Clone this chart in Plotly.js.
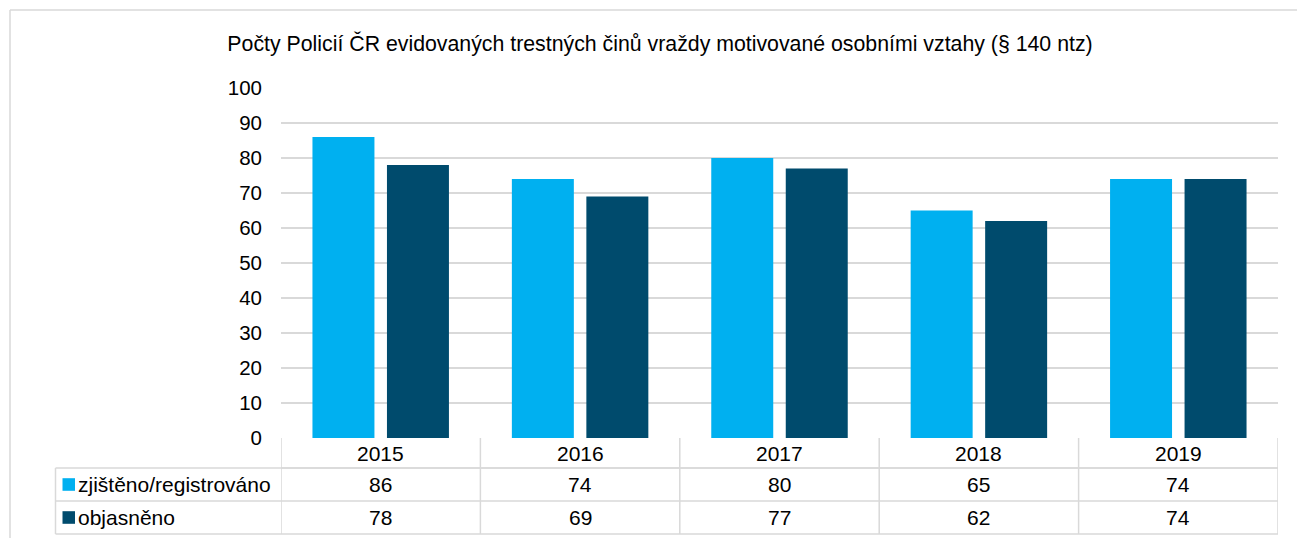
<!DOCTYPE html>
<html>
<head>
<meta charset="utf-8">
<script src="https://cdn.plot.ly/plotly-3.0.1.min.js"></script>
<style>
html,body{margin:0;padding:0;background:#fff;}
#chart{width:1297px;height:538px;}
</style>
</head>
<body>
<div id="chart"></div>
<script>
const chartTitle = "Počty Policií ČR evidovaných trestných činů vraždy motivované osobními vztahy (§ 140 ntz)";
const years = ["2015", "2016", "2017", "2018", "2019"];
const seriesNames = ["zjištěno/registrováno", "objasněno"];
const registered = [86, 74, 80, 65, 74];
const solved = [78, 69, 77, 62, 74];
const seriesColors = ["#00B0F0", "#004B6D"];

const W = 1297, H = 538;
const M = {l: 281, r: 19, t: 88, b: 100};
const plotW = W - M.l - M.r, plotH = H - M.t - M.b;
const px = v => (v - M.l) / plotW;          // pixel x -> paper x
const py = v => (H - M.b - v) / plotH;      // pixel y -> paper y

const FONT = "Liberation Sans, Arial, sans-serif";
const gridCol = "#D9D9D9";
const txtCol = "#000000";

const traces = [
  {type: "bar", name: seriesNames[0], x: years, y: registered,
   marker: {color: seriesColors[0]}, hoverinfo: "x+y+name"},
  {type: "bar", name: seriesNames[1], x: years, y: solved,
   marker: {color: seriesColors[1]}, hoverinfo: "x+y+name"}
];

// table geometry (pixels)
const rowTop = [438, 468, 501];
const rowBot = [468, 501, 534];
const tableLeft = 55.5;
const n = years.length;

const shapes = [];
const line = (x0, y0, x1, y1, xref, yref, w) => ({
  type: "line", xref: xref, yref: yref, x0: x0, y0: y0, x1: x1, y1: y1,
  line: {color: gridCol, width: w || 1.5}, layer: "above"
});
// outer frame
shapes.push(line(px(10), py(10), px(W + 5), py(10), "paper", "paper", 1.5));
shapes.push(line(px(10), py(10), px(10), py(H + 5), "paper", "paper", 1.5));
// horizontal table lines
shapes.push(line(px(281), py(rowBot[0]), px(1278), py(rowBot[0]), "paper", "paper"));
shapes.push(line(px(tableLeft), py(rowTop[1]), px(1278), py(rowTop[1]), "paper", "paper"));
shapes.push(line(px(tableLeft), py(rowBot[1]), px(1278), py(rowBot[1]), "paper", "paper"));
shapes.push(line(px(tableLeft), py(rowBot[2]), px(1278), py(rowBot[2]), "paper", "paper"));
// vertical column lines at category boundaries
for (let i = 0; i <= n; i++) {
  shapes.push({type: "line", xref: "x", yref: "paper", x0: i - 0.5, x1: i - 0.5,
    y0: 0, y1: py(rowBot[2]), line: {color: gridCol, width: 1.5}, layer: "above"});
}
shapes.push(line(px(tableLeft), py(rowTop[1]), px(tableLeft), py(rowBot[2]), "paper", "paper"));

// legend keys in table
const keyRows = [1, 2];
keyRows.forEach((r, k) => {
  const cy = (rowTop[r] + rowBot[r]) / 2;
  shapes.push({type: "rect", xref: "paper", yref: "paper",
    x0: px(62.5), x1: px(75), y0: py(cy - 6.3), y1: py(cy + 6.3),
    fillcolor: seriesColors[k], line: {width: 0}, layer: "above"});
});

const annotations = [];
const tfont = {family: FONT, size: 21, color: txtCol};
// header (years)
years.forEach((y, i) => {
  annotations.push({xref: "x", yref: "paper", x: i, y: py((rowTop[0] + rowBot[0]) / 2),
    text: y, showarrow: false, xanchor: "center", yanchor: "middle", font: tfont});
});
[registered, solved].forEach((vals, k) => {
  const r = k + 1;
  const cy = (rowTop[r] + rowBot[r]) / 2;
  annotations.push({xref: "paper", yref: "paper", x: px(76), y: py(cy),
    text: seriesNames[k], showarrow: false, xanchor: "left", yanchor: "middle", font: tfont});
  vals.forEach((v, i) => {
    annotations.push({xref: "x", yref: "paper", x: i, y: py(cy),
      text: String(v), showarrow: false, xanchor: "center", yanchor: "middle", font: tfont});
  });
});

const layout = {
  width: W, height: H,
  margin: M,
  paper_bgcolor: "#fff", plot_bgcolor: "#fff",
  font: {family: FONT, color: txtCol},
  title: {text: chartTitle, font: {family: FONT, size: 21.3, color: txtCol},
    x: 660 / W, xref: "container", xanchor: "center", y: 1 - 44 / H, yref: "container", yanchor: "middle"},
  showlegend: false,
  barmode: "group",
  bargap: 0.2528,
  bargroupgap: 0.168,
  xaxis: {type: "category", range: [-0.5, n - 0.5], showticklabels: false,
    showgrid: false, zeroline: false, showline: false, ticks: "", fixedrange: true},
  yaxis: {range: [0, 100], dtick: 10, tick0: 0, showgrid: true, gridcolor: gridCol, gridwidth: 1.3,
    zeroline: false, showline: false, ticks: "", ticklabelstandoff: 18,
    tickfont: {family: FONT, size: 20.5, color: txtCol}, fixedrange: true},
  shapes: shapes,
  annotations: annotations
};

Plotly.newPlot("chart", traces, layout, {displayModeBar: false, staticPlot: true});
</script>
</body>
</html>
